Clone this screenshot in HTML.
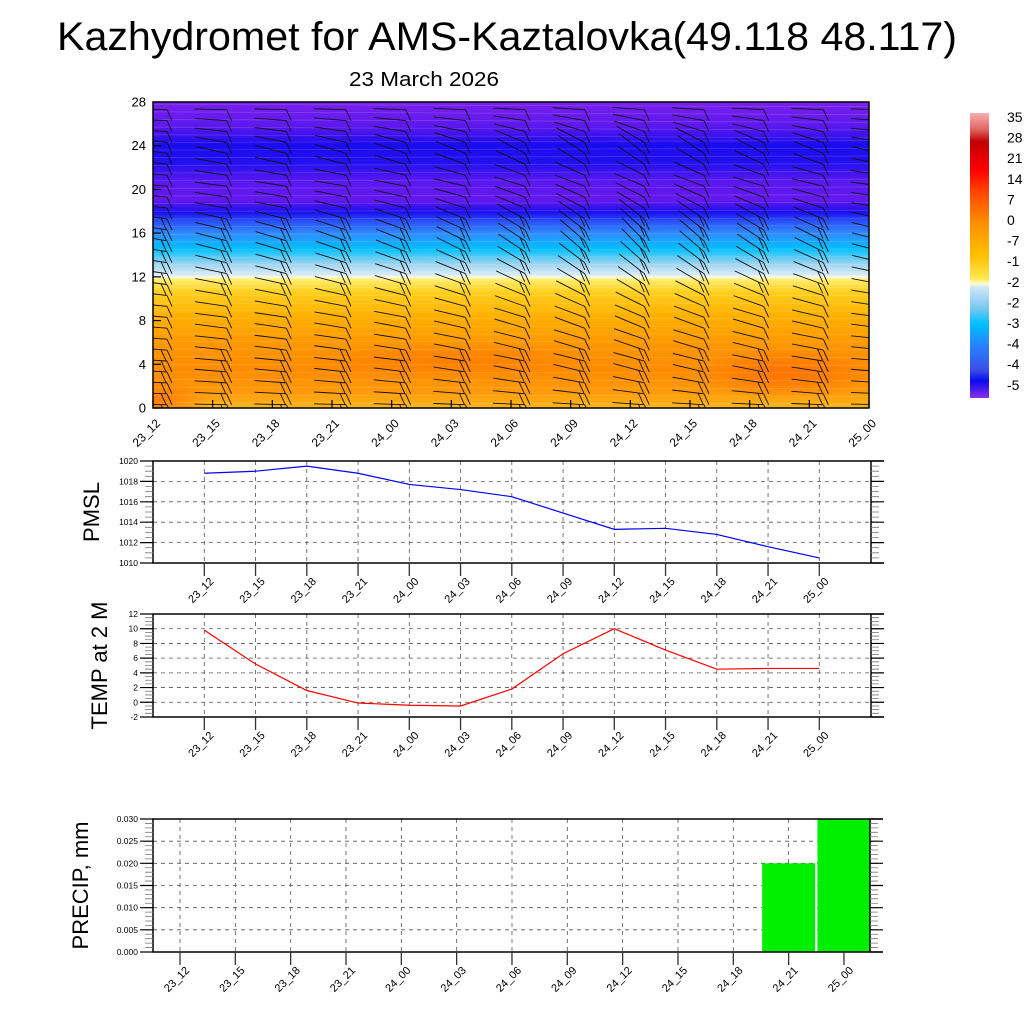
<!DOCTYPE html>
<html><head><meta charset="utf-8">
<style>
html,body{margin:0;padding:0;background:#fff;}
svg{display:block;font-family:"Liberation Sans",sans-serif;}
</style></head>
<body>
<svg id="chart" width="1024" height="1024" viewBox="0 0 1024 1024" xmlns="http://www.w3.org/2000/svg">
<defs>
<linearGradient id="tgrad" x1="0" y1="1" x2="0" y2="0">
<stop offset="0" stop-color="#fdb81a"/>
<stop offset="0.05" stop-color="#ff9a0a"/>
<stop offset="0.12" stop-color="#ff8c00"/>
<stop offset="0.2" stop-color="#ff9500"/>
<stop offset="0.3" stop-color="#ffb000"/>
<stop offset="0.38" stop-color="#ffd020"/>
<stop offset="0.42" stop-color="#ffee70"/>
<stop offset="0.428" stop-color="#fffbe0"/>
<stop offset="0.435" stop-color="#d8ecf8"/>
<stop offset="0.47" stop-color="#a0d4f0"/>
<stop offset="0.52" stop-color="#00c0ff"/>
<stop offset="0.57" stop-color="#2f8cff"/>
<stop offset="0.61" stop-color="#2a50f8"/>
<stop offset="0.64" stop-color="#1a10ee"/>
<stop offset="0.68" stop-color="#6418ee"/>
<stop offset="0.74" stop-color="#5a18f0"/>
<stop offset="0.8" stop-color="#2410f0"/>
<stop offset="0.86" stop-color="#1a0cf0"/>
<stop offset="0.92" stop-color="#5c18ee"/>
<stop offset="1" stop-color="#7a20ee"/>
</linearGradient>
<linearGradient id="cbgrad" x1="0" y1="0" x2="0" y2="1">
<stop offset="0" stop-color="#f8b0b0"/>
<stop offset="0.06" stop-color="#e06060"/>
<stop offset="0.1" stop-color="#c00000"/>
<stop offset="0.2" stop-color="#ff0000"/>
<stop offset="0.27" stop-color="#ff4000"/>
<stop offset="0.38" stop-color="#ff8c00"/>
<stop offset="0.5" stop-color="#ffc000"/>
<stop offset="0.58" stop-color="#ffe850"/>
<stop offset="0.6" stop-color="#fffbd0"/>
<stop offset="0.61" stop-color="#d0e8f6"/>
<stop offset="0.68" stop-color="#80c8f0"/>
<stop offset="0.74" stop-color="#00c0ff"/>
<stop offset="0.82" stop-color="#2a7fff"/>
<stop offset="0.9" stop-color="#3a50e8"/>
<stop offset="0.94" stop-color="#0a0af0"/>
<stop offset="1" stop-color="#8a30e8"/>
</linearGradient>
<radialGradient id="hot" cx="0.5" cy="0.5" r="0.5">
<stop offset="0" stop-color="#ff6a00" stop-opacity="0.8"/>
<stop offset="1" stop-color="#ff6a00" stop-opacity="0"/>
</radialGradient>
<clipPath id="topclip"><rect x="153" y="102" width="716" height="306"/></clipPath>
</defs>
<text x="57" y="50" font-size="40" textLength="900" lengthAdjust="spacingAndGlyphs">Kazhydromet for AMS-Kaztalovka(49.118 48.117)</text>
<text x="349" y="86" font-size="20" textLength="150" lengthAdjust="spacingAndGlyphs">23 March 2026</text>
<g id="topPanel"></g>
<g id="cbar"></g>
<g id="pmsl"></g>
<g id="temp"></g>
<g id="precip"></g>
</svg>
<script>
const times = ["23_12","23_15","23_18","23_21","24_00","24_03","24_06","24_09","24_12","24_15","24_18","24_21","25_00"];
const pmslValues = [1018.8,1019.0,1019.5,1018.8,1017.7,1017.2,1016.5,1014.9,1013.3,1013.4,1012.8,1011.6,1010.5];
const tempValues = [9.8,5.2,1.6,-0.1,-0.4,-0.5,1.8,6.6,10.0,7.1,4.5,4.6,4.6];
const precipValues = [0,0,0,0,0,0,0,0,0,0,0,0.02,0.03];
const heightTicks = [0,4,8,12,16,20,24,28];
const pmslTicks = [1010,1012,1014,1016,1018,1020];
const tempTicks = [-2,0,2,4,6,8,10,12];
const precipTicks = [0,0.005,0.010,0.015,0.020,0.025,0.030];
const colorbarLabels = ["35","28","21","14","7","0","-7","-1","-2","-2","-3","-4","-4","-5"];
const barbLevels = [0,1,2,3,4,5,6,7,8,9,10,11,12,13,14,15,16,17,18,19,20,21,22,23,24,25,26,27];
const levelTilt = [2,4,6,8,8,10,10,12,12,14,16,18,20,22,24,24,22,20,16,14,12,14,18,20,16,10,6,2];
const columnTilt = [0,4,6,8,10,14,20,26,30,26,20,14,4];
const levelSpeed = [2,2,2,2,2,2,1,1,1,1,1,2,2,2,2,2,2,2,1,1,1,1,1,1,1,1,1,1];

const NS="http://www.w3.org/2000/svg";
function mk(parent,tag,attrs,text){const e=document.createElementNS(NS,tag);for(const k in attrs)e.setAttribute(k,attrs[k]);if(text!==undefined)e.textContent=text;parent.appendChild(e);return e;}

// ---- top panel ----
const topG=document.getElementById('topPanel');
const tx0=153,tx1=869,ty0=102,ty1=408;
const txs=i=>tx0+i*(tx1-tx0)/(times.length-1);
const tys=v=>ty1-v/28*(ty1-ty0);
let bg=mk(topG,'rect',{x:tx0,y:ty0,width:tx1-tx0,height:ty1-ty0,fill:'url(#tgrad)'});


const hotg=mk(topG,'g',{'clip-path':'url(#topclip)'});
let h1=mk(hotg,'ellipse',{cx:txs(10.6),cy:tys(3.2),rx:90,ry:26,fill:'url(#hot)'});


let h2=mk(hotg,'ellipse',{cx:txs(5),cy:tys(4.4),rx:160,ry:18,fill:'url(#hot)',opacity:0.6});


let h3=mk(hotg,'ellipse',{cx:txs(0),cy:tys(0.5),rx:60,ry:25,fill:'url(#hot)'});


for(let l=0.5;l<28;l+=0.7){
  let cl=mk(hotg,'line',{x1:tx0,x2:tx1,y1:tys(l),y2:tys(l)+((l*7)%5-2),stroke:'#fff',
    'stroke-opacity':0.18,'stroke-width':0.7});
  
  
}
const barbG=mk(topG,'g',{'clip-path':'url(#topclip)',stroke:'#111','stroke-width':0.9,fill:'none'});
times.forEach((t,i)=>{
  barbLevels.forEach((lv,j)=>{
    const cx=txs(i)+14, cy=tys(lv+0.3);
    const a=(levelTilt[j]*(0.4+columnTilt[i]/20))*Math.PI/180;
    const L=32;
    const x2=cx-L*Math.cos(a), y2=cy-L*Math.sin(a);
    let p='M'+x2+' '+y2+' L'+cx+' '+cy;
    for(let k=0;k<levelSpeed[j];k++){
      const fx=cx-k*6*Math.cos(a), fy=cy-k*6*Math.sin(a);
      p+=' M'+fx+' '+fy+' l5 11';
    }
    const b=mk(barbG,'path',{d:p});
    
    
  });
});
let fr=mk(topG,'rect',{x:tx0,y:ty0,width:tx1-tx0,height:ty1-ty0,fill:'none',stroke:'#000','stroke-width':1.5});


heightTicks.forEach(v=>{
  const y=tys(v);
  let tk=mk(topG,'line',{x1:tx0,x2:tx0+8,y1:y,y2:y,stroke:'#000','stroke-width':1.2});
  
  
  let lb=mk(topG,'text',{x:tx0-7,y:y+4.5,'font-size':13,'text-anchor':'end'},String(v));
  
  
});
times.forEach((t,i)=>{
  const x=txs(i);
  let tk=mk(topG,'line',{x1:x,x2:x,y1:ty1,y2:ty1-8,stroke:'#000','stroke-width':1.2});
  
  
  let lb=mk(topG,'text',{x:0,y:0,'font-size':12,'text-anchor':'end',transform:`translate(${x+8},${ty1+16}) rotate(-45)`},t);
  
  
});

// ---- colorbar ----
const cb=document.getElementById('cbar');
let cbr=mk(cb,'rect',{x:970,y:113,width:19,height:285,fill:'url(#cbgrad)'});


colorbarLabels.forEach((s,i)=>{
  let lb=mk(cb,'text',{x:1007,y:122+i*20.6,'font-size':14},s);
  
  
});

// ---- generic xy panel ----
function panel(gid,opts){
  const g=document.getElementById(gid);
  const {x0,x1,xr,y0,y1,vmin,vmax,ticks,minorStep,fmt,xFirst,xStep,title,titleX}=opts;
  const ys=v=>y1-(v-vmin)/(vmax-vmin)*(y1-y0);
  const xs=i=>xFirst+i*xStep;
  ticks.forEach(v=>{
    if(v===vmin||v===vmax) return;
    let gl=mk(g,'line',{x1:x0,x2:xr,y1:ys(v),y2:ys(v),stroke:'#555','stroke-width':0.8,'stroke-dasharray':'4,4'});
    
    
  });
  times.forEach((t,i)=>{
    let gl=mk(g,'line',{x1:xs(i),x2:xs(i),y1:y0,y2:y1,stroke:'#555','stroke-width':0.8,'stroke-dasharray':'4,4'});
    
    
  });
  opts.draw(g,xs,ys);
  let f1=mk(g,'path',{d:`M${x1+13} ${y0} H${x0} V${y1} H${x1+13} M${xr} ${y0} V${y1}`,fill:'none',stroke:'#000','stroke-width':1.5});
  
  
  const n=Math.round((vmax-vmin)/minorStep);
  for(let k=0;k<=n;k++){
    const y=ys(vmin+k*minorStep);
    let m=mk(g,'path',{d:`M${x0-8} ${y} H${x0} M${xr} ${y} H${xr+8}`,stroke:'#777','stroke-width':0.8});
    
    
  }
  ticks.forEach(v=>{
    const y=ys(v);
    let t=mk(g,'path',{d:`M${x0-13} ${y} H${x0} M${xr} ${y} H${xr+13}`,stroke:'#000','stroke-width':1.2});
    
    
    let lb=mk(g,'text',{x:x0-15,y:y+3,'font-size':8.5,'text-anchor':'end'},fmt(v));
    
    
  });
  times.forEach((t,i)=>{
    const x=xs(i);
    let tk=mk(g,'line',{x1:x,x2:x,y1:y1,y2:y1+13,stroke:'#333','stroke-width':1.3});
    
    
    let lb=mk(g,'text',{x:0,y:0,'font-size':11,'text-anchor':'end',transform:`translate(${x+10},${y1+19}) rotate(-45)`},t);
    
    
  });
  let tt=mk(g,'text',{x:0,y:0,'font-size':22,'text-anchor':'middle',transform:`translate(${titleX},${(y0+y1)/2}) rotate(-90)`},title);
  
  
}
function linePath(vals,xs,ys){return vals.map((v,i)=>(i?'L':'M')+xs(i)+' '+ys(v)).join(' ');}

panel('pmsl',{x0:153,x1:871,xr:871,y0:461,y1:563,vmin:1010,vmax:1020,ticks:pmslTicks,minorStep:0.5,
  fmt:v=>String(v),xFirst:204.3,xStep:51.25,title:'PMSL',titleX:99,
  draw:(g,xs,ys)=>{let l=mk(g,'path',{d:linePath(pmslValues,xs,ys),fill:'none',stroke:'#0000ff','stroke-width':1.2});
    
    }});
panel('temp',{x0:153,x1:871,xr:871,y0:614,y1:717,vmin:-2,vmax:12,ticks:tempTicks,minorStep:0.5,
  fmt:v=>String(v),xFirst:204.3,xStep:51.25,title:'TEMP at 2 M',titleX:107,
  draw:(g,xs,ys)=>{let l=mk(g,'path',{d:linePath(tempValues,xs,ys),fill:'none',stroke:'#ff0000','stroke-width':1.2});
    
    }});
panel('precip',{x0:153,x1:870,xr:870,y0:819,y1:952,vmin:0,vmax:0.03,ticks:precipTicks,minorStep:0.001,
  fmt:v=>v.toFixed(3),xFirst:180,xStep:55.33,title:'PRECIP, mm',titleX:88,
  draw:(g,xs,ys)=>{precipValues.forEach((v,i)=>{if(v<=0)return;
    let b=mk(g,'rect',{x:xs(i)-26.5,y:ys(v),width:53,height:ys(0)-ys(v),fill:'#00ee00'});
    
    });}});
</script>
</body></html>
